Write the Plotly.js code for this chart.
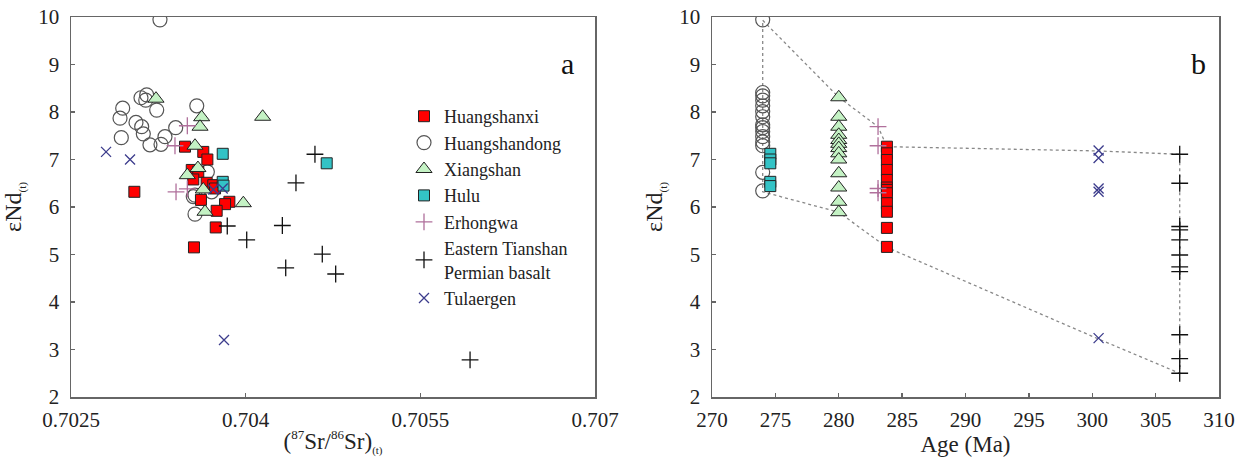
<!DOCTYPE html>
<html><head><meta charset="utf-8">
<script src="https://cdn.plot.ly/plotly-3.0.1.min.js"></script>
<style>
html,body{margin:0;padding:0;background:#fff}#c{width:1242px;height:457px}
</style>
</head><body><div id="c"></div>
<script>
// ---------- Panel a : (87Sr/86Sr)t vs eNd(t) ----------
const hsxSr  = [0.703479,0.703636,0.703671,0.703537,0.703593,0.703550,0.703665,0.703722,0.703737,0.703044,0.703616,0.703860,0.703823,0.703751,0.703743,0.703556];
const hsxNd  = [7.27,7.16,7.00,6.78,6.74,6.58,6.51,6.46,6.39,6.32,6.15,6.11,6.06,5.92,5.57,5.15];
const hsdSr  = [0.703264,0.703101,0.703150,0.703142,0.703236,0.702944,0.703580,0.702921,0.703058,0.703107,0.703121,0.703399,0.703307,0.702932,0.703178,0.703273,0.703671,0.703565,0.703708,0.703565,0.703550];
const hsdNd  = [9.94,8.30,8.36,8.25,8.04,8.08,8.13,7.87,7.78,7.69,7.54,7.67,7.48,7.46,7.31,7.32,6.74,6.25,6.32,5.85,6.22];
const xsSr   = [0.703230,0.703622,0.703608,0.704146,0.703565,0.703499,0.703636,0.703980,0.703651,0.703590];
const xsNd   = [8.28,7.89,7.69,7.90,7.29,6.67,6.37,6.08,5.90,6.82];
const huluSr = [0.703803,0.704696,0.703803,0.703810];
const huluNd = [7.12,6.92,6.53,6.45];
const ehwSr  = [0.703499,0.703393,0.703402,0.703499];
const ehwNd  = [7.71,7.29,6.32,6.38];
const etbSr  = [0.704595,0.704432,0.703842,0.704009,0.704315,0.704658,0.704344,0.704773,0.705927];
const etbNd  = [7.11,6.51,5.60,5.31,5.61,5.01,4.72,4.59,2.78];
const tleSr  = [0.702801,0.703007,0.703722,0.703803,0.703814];
const tleNd  = [7.16,7.00,6.37,6.39,3.20];

// ---------- Panel b : Age vs eNd(t) ----------
const ageHsd = 274.0, ageHulu = 274.6, ageXs = 280.0, ageEhw = 283.1, ageHsx = 283.8, ageTle = 300.5, ageEtb = 306.9;
const bHsdNd  = [9.94,8.41,8.34,8.25,8.13,8.01,7.90,7.73,7.67,7.59,7.48,7.37,7.29,6.73,6.34];
const bHuluNd = [7.12,7.00,6.92,6.53,6.44];
const bXsNd   = [8.31,7.90,7.69,7.52,7.41,7.33,7.24,7.13,7.00,6.71,6.41,6.11,5.89];
const bHsxNd  = [7.27,7.13,6.99,6.78,6.57,6.41,6.36,6.29,6.08,5.90,5.56,5.16];
const bEhwNd  = [7.69,7.29,6.39,6.30];
const bTleNd  = [7.19,7.03,6.39,6.32,3.24];
const bEtbNd  = [7.11,6.50,5.59,5.52,5.31,4.99,4.74,4.64,3.31,2.81,2.50];
const envAge  = [274.0,280.0,283.1,283.8,300.5,306.9,306.9,300.5,283.8,280.0,274.0,274.0];
const envNd   = [9.93,8.31,7.69,7.27,7.18,7.11,2.50,3.22,5.15,5.89,6.32,9.93];

const srTicks = [0.7025,0.704,0.7055,0.707];
const srTickText = ['0.7025','0.704','0.7055','0.707'];
const ageTicks = [270,275,280,285,290,295,300,305,310];
const ndTicks = [2,3,4,5,6,7,8,9,10];

const names = ['Huangshanxi','Huangshandong','Xiangshan','Hulu','Erhongwa','Eastern Tianshan<br>Permian basalt','Tulaergen'];
const mk = {
  hsx: {symbol:'square', size:11, color:'#ff0000', line:{color:'#222', width:1}},
  hsd: {symbol:'circle-open', size:14, color:'#555', line:{color:'#555', width:1.2}},
  xs:  {symbol:'triangle-up', size:14, color:'#c4f2c4', line:{color:'#222', width:1}},
  hulu:{symbol:'square', size:11, color:'#33c3c6', line:{color:'#222', width:1}},
  ehw: {symbol:'cross-thin-open', size:12, color:'#b0709c', line:{color:'#b0709c', width:1.3}},
  etb: {symbol:'cross-thin-open', size:12, color:'#111', line:{color:'#111', width:1.3}},
  tle: {symbol:'x-thin-open', size:10, color:'#3c3c8c', line:{color:'#3c3c8c', width:1.3}}
};
function tr(x,y,m,name,rank,xa,ya,show){
  return {type:'scatter', mode:'markers', x:x, y:y, marker:m, name:name, legendrank:rank,
          xaxis:xa, yaxis:ya, showlegend:show, hoverinfo:'x+y'};
}
const cst = (arr,v)=>arr.map(()=>v);
const data = [
  tr(hsdSr,hsdNd,mk.hsd,names[1],2,'x','y',true),
  tr(hsxSr,hsxNd,mk.hsx,names[0],1,'x','y',true),
  tr(xsSr,xsNd,mk.xs,names[2],3,'x','y',true),
  tr(huluSr,huluNd,mk.hulu,names[3],4,'x','y',true),
  tr(ehwSr,ehwNd,mk.ehw,names[4],5,'x','y',true),
  tr(etbSr,etbNd,mk.etb,names[5],6,'x','y',true),
  tr(tleSr,tleNd,mk.tle,names[6],7,'x','y',true),
  {type:'scatter', mode:'lines', x:envAge, y:envNd, xaxis:'x2', yaxis:'y2', showlegend:false,
   line:{color:'#888', width:1.3, dash:'dot'}, hoverinfo:'skip'},
  tr(cst(bHsdNd,ageHsd),bHsdNd,mk.hsd,names[1],2,'x2','y2',false),
  tr(cst(bHuluNd,ageHulu),bHuluNd,mk.hulu,names[3],4,'x2','y2',false),
  tr(cst(bXsNd,ageXs),bXsNd,mk.xs,names[2],3,'x2','y2',false),
  tr(cst(bHsxNd,ageHsx),bHsxNd,mk.hsx,names[0],1,'x2','y2',false),
  tr(cst(bEhwNd,ageEhw),bEhwNd,mk.ehw,names[4],5,'x2','y2',false),
  tr(cst(bTleNd,ageTle),bTleNd,mk.tle,names[6],7,'x2','y2',false),
  tr(cst(bEtbNd,ageEtb),bEtbNd,mk.etb,names[5],6,'x2','y2',false)
];
const F = 'Liberation Serif';
function ax(extra){
  return Object.assign({showgrid:false, zeroline:false, showline:true, linecolor:'#666', linewidth:1.5, mirror:true,
    ticks:'inside', ticklen:4, tickcolor:'#666', tickwidth:1.3, tickfont:{family:F, size:21, color:'#222'}}, extra);
}
const ndTitle = 'εNd<sub><span style="font-size:11px">(t)</span></sub>';
const layout = {
  width:1242, height:457, paper_bgcolor:'#fff', plot_bgcolor:'#fff',
  margin:{l:0,r:0,t:0,b:0}, font:{family:F, color:'#222', size:20},
  xaxis: ax({domain:[71/1242, 595/1242], range:[0.7025,0.707], tickvals:srTicks, ticktext:srTickText,
     ticklabelstandoff:3,
     title:{text:'(<sup><span style="font-size:13px">87</span></sup>Sr/<sup><span style="font-size:13px">86</span></sup>Sr)<sub><span style="font-size:11px">(t)</span></sub>', font:{family:F, size:23, color:'#222'}, standoff:4}}),
  yaxis: ax({domain:[60/457, 440/457], range:[2,10], tickvals:ndTicks, ticklabelstandoff:6,
     title:{text:ndTitle, font:{family:F, size:24, color:'#222'}, standoff:10}}),
  xaxis2: ax({domain:[712/1242, 1219/1242], range:[270,310], tickvals:ageTicks, anchor:'y2',
     ticklabelstandoff:3,
     title:{text:'Age (Ma)', font:{family:F, size:23, color:'#222'}, standoff:4}}),
  yaxis2: ax({domain:[60/457, 440/457], range:[2,10], tickvals:ndTicks, anchor:'x2', ticklabelstandoff:6,
     title:{text:ndTitle, font:{family:F, size:24, color:'#222'}, standoff:10}}),
  legend:{x:404/1242, y:1-98/457, xanchor:'left', yanchor:'top', bgcolor:'rgba(0,0,0,0)', borderwidth:0,
     font:{family:F, size:18, color:'#222'}, tracegroupgap:0},
  annotations:[
    {text:'a', x:567/1242, y:1-45/457, xref:'paper', yref:'paper', showarrow:false, font:{family:F, size:30, color:'#111'}},
    {text:'b', x:1208/1242, y:1-45/457, xref:'paper', yref:'paper', showarrow:false, font:{family:F, size:30, color:'#111'}}
  ]
};
Plotly.newPlot('c', data, layout, {staticPlot:true});
</script></body></html>
